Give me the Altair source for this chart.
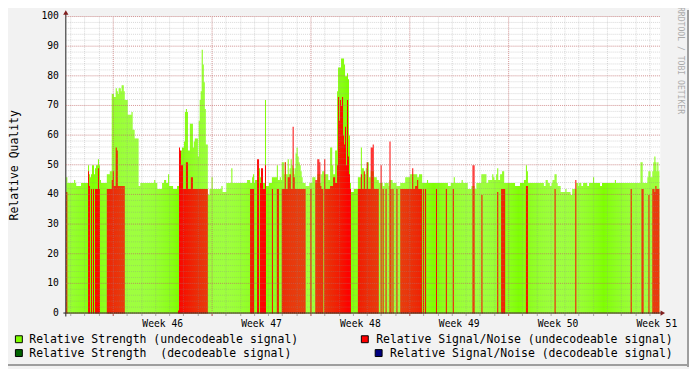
import altair as alt
import pandas as pd

# ---------------- data ----------------
# time: hours from Monday 00:00 of week 46, one consolidated sample every 1.68 h
SAMPLE_HOURS = 1.68
FIRST_SAMPLE_HOUR = -78.96
N_SAMPLES = 600

# run-length lists: (number of consecutive samples, value); 0 = no data
strength_undecodeable = [
    (1, 46), (7, 44), (1, 45), (1, 44), (5, 43), (7, 44), (1, 50), (1, 47), (1, 46), (1, 47),
    (2, 50), (1, 47), (1, 49), (2, 50), (1, 52), (1, 50), (1, 45), (6, 44), (3, 47), (2, 48),
    (2, 74), (2, 73), (1, 76), (1, 75), (1, 74), (2, 76), (1, 75), (2, 77), (1, 75), (3, 72),
    (4, 67), (1, 68), (2, 62), (4, 59), (2, 43), (14, 44), (1, 45), (2, 44), (5, 42), (2, 44),
    (2, 45), (2, 44), (1, 47), (4, 43), (4, 42), (2, 43), (2, 47), (1, 55), (2, 56), (1, 58),
    (1, 68), (1, 69), (1, 68), (2, 55), (3, 64), (1, 56), (1, 58), (3, 59), (1, 53),
    (1, 65), (1, 72), (1, 75), (1, 89), (1, 84), (1, 78), (1, 69), (2, 57),
    (2, 40), (2, 42), (1, 46), (9, 42), (1, 43), (4, 41), (5, 44), (1, 49), (15, 44), (3, 45),
    (2, 44), (1, 46), (1, 47), (1, 44), (4, 45), (1, 49), (1, 46), (1, 44), (1, 43), (2, 44),
    (1, 72), (3, 43), (3, 44), (5, 46), (1, 50), (2, 45), (1, 46), (1, 45), (2, 51), (1, 47),
    (1, 51), (2, 47),
    (1, 52), (1, 47), (1, 49), (1, 52), (1, 50), (1, 49), (1, 47), (1, 49), (1, 54), (1, 56),
    (1, 53), (1, 51), (1, 50), (1, 48), (1, 46),
    (3, 44), (4, 43), (3, 44), (3, 46), (2, 44), (3, 47), (1, 44), (1, 47), (2, 48), (4, 47),
    (2, 45), (2, 56), (1, 50), (2, 47), (2, 55), (1, 75), (3, 83), (3, 86), (1, 84), (2, 80),
    (1, 81), (1, 79), (1, 60), (1, 44), (3, 41), (4, 42), (3, 46), (1, 56), (2, 49), (2, 47),
    (1, 49), (2, 51), (2, 46), (3, 48), (3, 46), (2, 45), (4, 44), (2, 43), (4, 44), (1, 43),
    (3, 45), (4, 44), (4, 43), (5, 44), (5, 46), (7, 47), (2, 46), (3, 47), (5, 44), (1, 45),
    (20, 44), (3, 43), (3, 44), (1, 46), (7, 44), (1, 45), (5, 44), (4, 42), (3, 43), (2, 42),
    (5, 44), (5, 47), (2, 44), (4, 45), (1, 47), (1, 46), (2, 45), (1, 47), (1, 49), (2, 45),
    (2, 47), (2, 48), (11, 44), (5, 43), (4, 44), (2, 45), (1, 50), (1, 48), (16, 44), (2, 43),
    (2, 45), (2, 44), (2, 43), (1, 44), (2, 45), (2, 47), (1, 44), (3, 43), (5, 41), (1, 42),
    (4, 41), (2, 40), (4, 42), (2, 44), (1, 43), (2, 44), (2, 43), (4, 44), (2, 43), (4, 44),
    (1, 46), (6, 44), (2, 43), (13, 44), (1, 45), (25, 44), (2, 51), (5, 44), (1, 46), (2, 48),
    (2, 46), (1, 48), (1, 51), (1, 53), (1, 51), (1, 48), (1, 51), (1, 48),
]

snr_undecodeable = [
    (1, 41), (21, 0), (1, 48), (1, 43), (1, 0), (1, 42), (1, 0), (1, 42), (1, 0), (3, 42),
    (1, 49), (1, 42), (7, 0), (5, 42), (1, 45), (1, 48), (2, 43), (1, 56), (1, 55), (7, 43),
    (54, 0), (1, 1), (1, 56), (1, 55), (2, 50), (3, 42), (2, 51), (3, 42), (2, 46), (15, 42),
    (43, 0), (4, 42), (3, 0), (2, 52), (1, 0), (1, 44), (2, 49), (2, 42), (1, 50), (6, 0),
    (1, 42), (4, 0), (2, 42), (3, 0), (3, 42), (1, 51), (2, 42), (2, 46), (1, 47), (2, 42),
    (1, 63), (1, 46), (11, 42), (5, 0), (1, 42), (4, 0), (2, 45), (2, 52), (1, 51), (1, 43),
    (2, 42), (1, 0), (1, 52), (5, 42), (3, 43), (2, 46), (2, 44), (1, 50), (1, 73), (1, 65),
    (1, 72), (1, 70), (1, 73), (1, 60), (1, 57), (1, 63), (1, 50), (1, 72), (1, 53), (1, 47),
    (1, 42), (7, 0), (3, 42), (1, 47), (2, 42), (1, 48), (2, 42), (1, 51), (3, 42), (2, 56),
    (1, 57), (5, 42), (2, 0), (1, 50), (1, 0), (1, 42), (2, 0), (1, 42), (3, 0), (1, 58),
    (1, 42), (1, 0), (1, 42), (3, 0), (1, 42), (3, 0), (12, 42), (1, 49), (2, 42), (2, 43),
    (1, 45), (4, 42), (1, 0), (1, 42), (1, 0), (1, 42), (10, 0), (1, 42), (9, 0), (1, 42),
    (6, 0), (1, 42), (19, 0), (2, 50), (7, 0), (1, 40), (15, 0), (1, 41), (3, 0), (4, 42),
    (21, 0), (2, 43), (27, 0), (1, 42), (20, 0), (1, 45), (55, 0), (1, 42), (10, 0), (2, 42),
    (5, 0), (1, 40), (3, 0), (2, 42), (1, 41), (1, 43), (3, 42),
]

strength_decodeable = [(600, 0)]
snr_decodeable = [(600, 0)]

series_labels = [
    "Relative Strength (undecodeable signal)",
    "Relative Signal/Noise (undecodeable signal)",
    "Relative Strength\u00a0 (decodeable signal)",
    "Relative Signal/Noise (decodeable signal)",
]
series_colors = ["#7fff00", "#ff0000", "#006400", "#000080"]

week_numbers = [46, 47, 48, 49, 50, 51]
y_label_values = list(range(0, 101, 10))
y_minor_values = list(range(0, 101, 2))
day_hours = [24 * d for d in range(-3, 39)]
week_start_hours = [168 * (w - 46) for w in week_numbers if w < 51]
week_label_hours = [168 * (w - 46) + 84 for w in week_numbers]

TITLE_Y = "Relative Quality"
WATERMARK = "RRDTOOL / TOBI OETIKER"
FONT = "DejaVu Sans Mono"


def expand(runs):
    vals = []
    for n, v in runs:
        vals.extend([v] * n)
    assert len(vals) == N_SAMPLES, len(vals)
    return vals


rows = []
for label, runs in zip(series_labels, [strength_undecodeable, snr_undecodeable,
                                       strength_decodeable, snr_decodeable]):
    for i, v in enumerate(expand(runs)):
        if v > 0:
            t0 = FIRST_SAMPLE_HOUR + i * SAMPLE_HOURS
            rows.append({"series": label, "t0": t0, "t1": t0 + SAMPLE_HOURS, "value": v})
df = pd.DataFrame(rows)

X0 = FIRST_SAMPLE_HOUR
X1 = FIRST_SAMPLE_HOUR + 601 * SAMPLE_HOURS
xscale = alt.Scale(domain=[X0, X1], nice=False, zero=False)
yscale = alt.Scale(domain=[0, 100], nice=False, zero=True)

GRID = "#8f8f8f"
MGRID = "#de4f4f"
GRID_OP = 0.35
MGRID_OP = 0.45

ax_x_minor = alt.Axis(orient="bottom", values=day_hours, grid=True, gridColor=GRID, gridOpacity=GRID_OP,
                      gridDash=[1, 1], ticks=True, tickColor=GRID, tickOpacity=0.75, tickSize=2,
                      labels=False, domain=False, title=None, zindex=1)
ax_x_major = alt.Axis(orient="bottom", values=week_start_hours, grid=True, gridColor=MGRID,
                      gridOpacity=MGRID_OP, gridDash=[1, 1], ticks=True, tickColor=MGRID,
                      tickOpacity=0.8, tickSize=2, labels=False, domain=False, title=None, zindex=1)
ax_x_label = alt.Axis(orient="bottom", values=week_label_hours, grid=False, ticks=False, tickSize=0,
                      labels=True, labelExpr="'Week ' + format((datum.value - 84) / 168 + 46, 'd')",
                      labelFont=FONT, labelFontSize=9.8, labelColor="#000000", labelPadding=13,
                      labelBaseline="alphabetic", labelAlign="center", labelFlush=False,
                      labelOverlap=False, labelBound=False, domain=False, title=None, zindex=1)
ax_y_minor = alt.Axis(orient="left", values=y_minor_values, grid=True, gridColor=GRID, gridOpacity=GRID_OP,
                      gridDash=[1, 1], ticks=False, labels=False, domain=False, title=None,
                      zindex=1, translate=-0.5)
ax_y_major = alt.Axis(orient="left", values=y_label_values, grid=True, gridColor=MGRID,
                      gridOpacity=MGRID_OP, gridDash=[1, 1], ticks=False, tickSize=0, labels=True,
                      labelFont=FONT, labelFontSize=9.8, labelColor="#000000", labelPadding=7,
                      labelBaseline="middle", labelFlush=False, labelOverlap=False, domain=False,
                      title=None, zindex=1, translate=-0.5)


def bars(label, color, xaxis, yaxis):
    return (
        alt.Chart(df)
        .transform_filter(alt.datum.series == label)
        .mark_rect(color=color, strokeWidth=0)
        .encode(
            x=alt.X("t0:Q", scale=xscale, axis=xaxis),
            x2="t1:Q",
            y=alt.Y("value:Q", scale=yscale, axis=yaxis),
            y2=alt.datum(0),
        )
    )


layers = [
    bars(series_labels[0], series_colors[0], ax_x_minor, ax_y_minor),
    bars(series_labels[1], series_colors[1], ax_x_major, ax_y_major),
    bars(series_labels[2], series_colors[2], ax_x_label, None),
    bars(series_labels[3], series_colors[3], None, None),
]

one = pd.DataFrame({"k": [0]})
AXIS_COL = "#1f1f1f"
ARROW_COL = "#801f1f"

# axis lines and arrows
layers.append(alt.Chart(one).mark_rule(color=AXIS_COL, strokeWidth=1).encode(
    x=alt.value(-3), x2=alt.value(603), y=alt.value(299.5)))
layers.append(alt.Chart(one).mark_rule(color=AXIS_COL, strokeWidth=1).encode(
    x=alt.value(-0.5), y=alt.value(-3), y2=alt.value(303)))
layers.append(alt.Chart(one).mark_point(shape="triangle-up", filled=True, color=ARROW_COL, size=28,
                                        opacity=1).encode(x=alt.value(-0.5), y=alt.value(-4.5)))
layers.append(alt.Chart(one).mark_point(shape="triangle-right", filled=True, color=ARROW_COL, size=28,
                                        opacity=1).encode(x=alt.value(603.5), y=alt.value(299.5)))

# y title
layers.append(alt.Chart(one).mark_text(text=TITLE_Y, font=FONT, fontSize=11.6, angle=270,
                                       baseline="alphabetic", align="center", color="#000000").encode(
    x=alt.value(-48.5), y=alt.value(150)))
# watermark
layers.append(alt.Chart(one).mark_text(text=WATERMARK, font=FONT, fontSize=8.2, angle=90,
                                       baseline="middle", align="center", color="#000000",
                                       opacity=0.3).encode(x=alt.value(621), y=alt.value(44)))

# legend (manual, rrdtool style)
legend_boxes = [(-51.5, -44.5, 322.5, 329.5), (298.5, 305.5, 322.5, 329.5),
                (-51.5, -44.5, 336.5, 343.5), (312.5, 319.5, 336.5, 343.5)]
legend_text_pos = [(-37.5, 330), (313.5, 330), (-37.5, 344), (327.5, 344)]
for label, color, (bx0, bx1, by0, by1), (tx, ty) in zip(series_labels, series_colors,
                                                         legend_boxes, legend_text_pos):
    layers.append(alt.Chart(one).mark_rect(fill=color, stroke="#000000", strokeWidth=1).encode(
        x=alt.value(bx0), x2=alt.value(bx1), y=alt.value(by0), y2=alt.value(by1)))
    layers.append(alt.Chart(one).mark_text(text=label, font=FONT, fontSize=11.6, align="left",
                                           baseline="alphabetic", color="#000000").encode(
        x=alt.value(tx), y=alt.value(ty)))

# 3D frame shades (right / bottom)
layers.append(alt.Chart(one).mark_rule(color="#9e9e9e", strokeWidth=2).encode(
    x=alt.value(629), y=alt.value(-7), y2=alt.value(354)))
layers.append(alt.Chart(one).mark_rule(color="#9e9e9e", strokeWidth=2).encode(
    x=alt.value(-59), x2=alt.value(630), y=alt.value(352)))

chart = (
    alt.layer(*layers)
    .resolve_axis(x="independent", y="independent")
    .properties(
        width=601,
        height=300,
        padding={"left": 59, "top": 7, "right": 29, "bottom": 54},
        autosize=alt.AutoSizeParams(type="none"),
        background="#f2f2f2",
    )
    .configure_view(stroke=None, fill="#ffffff")
)

chart.save("out.html", embed_options={"renderer": "svg", "actions": False})
